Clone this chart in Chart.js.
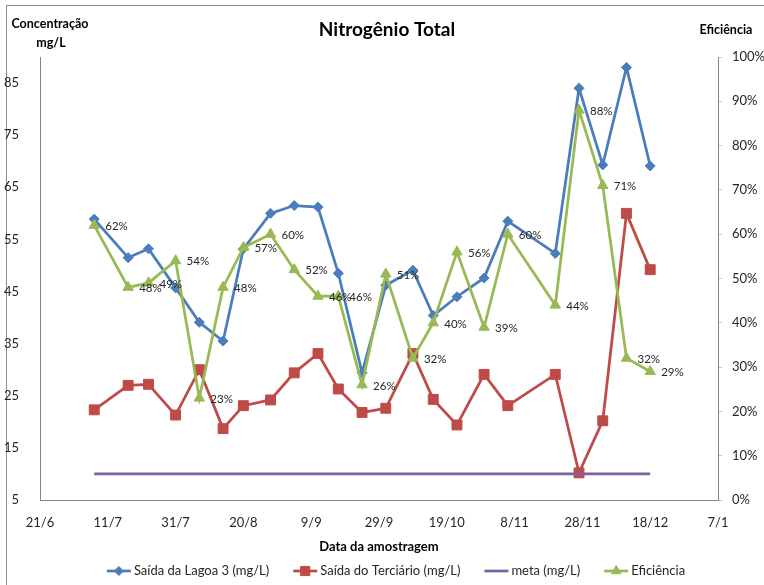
<!DOCTYPE html>
<html>
<head>
<meta charset="utf-8">
<title>Nitrogênio Total</title>
<script src="https://cdn.jsdelivr.net/npm/chart.js@4.4.1/dist/chart.umd.min.js"></script>
<style>
  html, body { margin: 0; padding: 0; background: #fff; }
  #wrap { width: 764px; height: 585px; }
</style>
</head>
<body>
<div id="wrap"><canvas id="chart" width="764" height="585"></canvas></div>
<script>
// Sampling dates
const sampleDates = [
  '2010-07-07', '2010-07-17', '2010-07-23', '2010-07-31', '2010-08-07', '2010-08-14',
  '2010-08-20', '2010-08-28', '2010-09-04', '2010-09-11', '2010-09-17', '2010-09-24',
  '2010-10-01', '2010-10-09', '2010-10-15', '2010-10-22', '2010-10-30', '2010-11-06',
  '2010-11-20', '2010-11-27', '2010-12-04', '2010-12-11', '2010-12-18'
];

// Total nitrogen (mg/L)
const saidaLagoa3 = [
  58.9, 51.5, 53.2, 45.7, 39.1, 35.5, 53.2, 60.0, 61.5, 61.2, 48.5, 29.4,
  46.2, 49.1, 40.4, 44.0, 47.6, 58.5, 52.3, 84.0, 69.3, 88.0, 69.1
];
const saidaTerciario = [
  22.3, 27.0, 27.2, 21.3, 30.0, 18.7, 23.1, 24.2, 29.4, 33.1, 26.3, 21.8,
  22.6, 33.1, 24.3, 19.4, 29.1, 23.1, 29.1, 10.2, 20.2, 60.0, 49.2
];
const metaMgL = [
  10, 10, 10, 10, 10, 10, 10, 10, 10, 10, 10, 10,
  10, 10, 10, 10, 10, 10, 10, 10, 10, 10, 10
];
// Removal efficiency (%)
const eficiencia = [
  62, 48, 49, 54, 23, 48, 57, 60, 52, 46, 46, 26,
  51, 32, 40, 56, 39, 60, 44, 88, 71, 32, 29
];

// Axis ticks
const dateTicks = [
  '2010-06-21', '2010-07-11', '2010-07-31', '2010-08-20', '2010-09-09', '2010-09-29',
  '2010-10-19', '2010-11-08', '2010-11-28', '2010-12-18', '2011-01-07'
];
const concTicks = [5, 15, 25, 35, 45, 55, 65, 75, 85];
const efTicks = [0, 10, 20, 30, 40, 50, 60, 70, 80, 90, 100];

const FONT = 'Lato, "Liberation Sans", sans-serif';
const TEXT = '#262626';
const AXIS = '#868686';

const DAY0 = Date.parse(dateTicks[0] + 'T00:00:00Z');
const dayOf = s => Math.round((Date.parse(s + 'T00:00:00Z') - DAY0) / 86400000);
const fmtDay = v => {
  const d = new Date(DAY0 + v * 86400000);
  return d.getUTCDate() + '/' + (d.getUTCMonth() + 1);
};
const toPoints = arr => arr.map((v, i) => ({ x: dayOf(sampleDates[i]), y: v }));

Chart.defaults.font.family = FONT;
Chart.defaults.color = TEXT;

const decor = {
  id: 'decor',
  beforeDraw(chart) {
    const ctx = chart.ctx;
    ctx.save();
    ctx.fillStyle = '#ffffff';
    ctx.fillRect(0, 0, chart.width, chart.height);
    ctx.strokeStyle = '#8c8c8c';
    ctx.lineWidth = 1;
    ctx.strokeRect(6.5, 5.5, chart.width + 20, chart.height + 20);
    ctx.restore();
  },
  afterDatasetsDraw(chart) {
    // percentage labels beside the efficiency points
    const ctx = chart.ctx;
    const idx = chart.data.datasets.findIndex(d => d.label === 'Eficiência');
    const meta = chart.getDatasetMeta(idx);
    ctx.save();
    ctx.font = '11.5px ' + FONT;
    ctx.fillStyle = TEXT;
    ctx.textAlign = 'left';
    ctx.textBaseline = 'middle';
    meta.data.forEach((pt, i) => {
      ctx.fillText(eficiencia[i] + '%', pt.x + 11, pt.y + 1);
    });
    ctx.restore();
  },
  afterDraw(chart) {
    const ctx = chart.ctx;
    ctx.save();
    ctx.fillStyle = '#000';
    ctx.textAlign = 'center';
    ctx.textBaseline = 'middle';
    ctx.font = 'bold 19px ' + FONT;
    ctx.fillText('Nitrogênio Total', 387, 30);
    ctx.font = 'bold 12.5px ' + FONT;
    ctx.fillText('Concentração', 50, 24);
    ctx.fillText('mg/L', 51, 43);
    ctx.fillText('Eficiência', 726, 30);

    // legend: line + marker, then label
    ctx.font = '13px ' + FONT;
    const sets = chart.data.datasets;
    const LINE = 24, GAP_TXT = 3, GAP_ITEM = 24;
    const widths = sets.map(d => ctx.measureText(d.label).width);
    const total = widths.reduce((a, w) => a + LINE + GAP_TXT + w, 0) + GAP_ITEM * (sets.length - 1);
    let x = 396 - total / 2;
    const y = 571;
    sets.forEach((ds, i) => {
      ctx.strokeStyle = ds.borderColor;
      ctx.lineWidth = ds.borderWidth;
      ctx.beginPath();
      ctx.moveTo(x, y);
      ctx.lineTo(x + LINE, y);
      ctx.stroke();
      if (ds.pointRadius > 0) {
        ctx.fillStyle = ds.backgroundColor;
        ctx.strokeStyle = ds.borderColor;
        ctx.lineWidth = 1;
        Chart.helpers.drawPoint(ctx, {
          pointStyle: ds.pointStyle, rotation: 0, radius: ds.pointRadius - 0.5, borderWidth: 1
        }, x + LINE / 2, y);
      }
      ctx.fillStyle = TEXT;
      ctx.textAlign = 'left';
      ctx.fillText(ds.label, x + LINE + GAP_TXT, y);
      x += LINE + GAP_TXT + widths[i] + GAP_ITEM;
    });
    ctx.restore();
  }
};

new Chart(document.getElementById('chart'), {
  type: 'line',
  data: {
    datasets: [
      {
        label: 'Saída da Lagoa 3 (mg/L)',
        data: toPoints(saidaLagoa3),
        yAxisID: 'y',
        borderColor: '#4A7EBB',
        backgroundColor: '#4A7EBB',
        borderWidth: 2.75,
        pointStyle: 'rectRot',
        pointRadius: 5,
        pointBorderWidth: 1,
        order: 4
      },
      {
        label: 'Saída do Terciário (mg/L)',
        data: toPoints(saidaTerciario),
        yAxisID: 'y',
        borderColor: '#BE4B48',
        backgroundColor: '#BE4B48',
        borderWidth: 2.75,
        pointStyle: 'rect',
        pointRadius: 7,
        pointBorderWidth: 1,
        order: 3
      },
      {
        label: 'meta (mg/L)',
        data: toPoints(metaMgL),
        yAxisID: 'y',
        borderColor: '#7D60A0',
        backgroundColor: '#7D60A0',
        borderWidth: 2.75,
        pointRadius: 0,
        order: 2
      },
      {
        label: 'Eficiência',
        data: toPoints(eficiencia),
        yAxisID: 'y1',
        borderColor: '#98B954',
        backgroundColor: '#98B954',
        borderWidth: 2.75,
        pointStyle: 'triangle',
        pointRadius: 6,
        pointBorderWidth: 1,
        order: 1
      }
    ]
  },
  options: {
    responsive: false,
    animation: false,
    devicePixelRatio: 1,
    layout: { padding: { top: 57, bottom: 30, left: 0, right: 0 } },
    elements: { line: { tension: 0 } },
    plugins: {
      legend: { display: false },
      tooltip: { enabled: false }
    },
    scales: {
      x: {
        type: 'linear',
        position: 'bottom',
        min: 0,
        max: dayOf(dateTicks[dateTicks.length - 1]),
        grid: { display: false },
        border: { display: true, color: AXIS, width: 1 },
        afterBuildTicks: s => { s.ticks = dateTicks.map(d => ({ value: dayOf(d) })); },
        ticks: {
          callback: v => fmtDay(v),
          font: { size: 13 },
          color: TEXT,
          padding: 7,
          maxRotation: 0,
          autoSkip: false
        },
        title: {
          display: true,
          text: 'Data da amostragem',
          color: '#000',
          font: { size: 13, weight: 'bold' },
          padding: { top: 0, bottom: 0 }
        },
        afterFit: s => { s.height = 55; }
      },
      y: {
        position: 'left',
        min: 5,
        max: 90,
        grid: { display: false },
        border: { display: true, color: AXIS, width: 1 },
        afterBuildTicks: s => { s.ticks = concTicks.map(v => ({ value: v })); },
        ticks: { font: { size: 13 }, color: TEXT, padding: 13 },
        afterFit: s => { s.width = 40; }
      },
      y1: {
        position: 'right',
        min: 0,
        max: 100,
        grid: { display: true, drawOnChartArea: false, drawTicks: true, tickLength: 4, color: '#c8c8c8' },
        border: { display: true, color: AXIS, width: 1 },
        afterBuildTicks: s => { s.ticks = efTicks.map(v => ({ value: v })); },
        ticks: { font: { size: 13 }, color: TEXT, padding: 10, callback: v => v + '%' },
        afterFit: s => { s.width = 46; }
      }
    }
  },
  plugins: [decor]
});
</script>
</body>
</html>
